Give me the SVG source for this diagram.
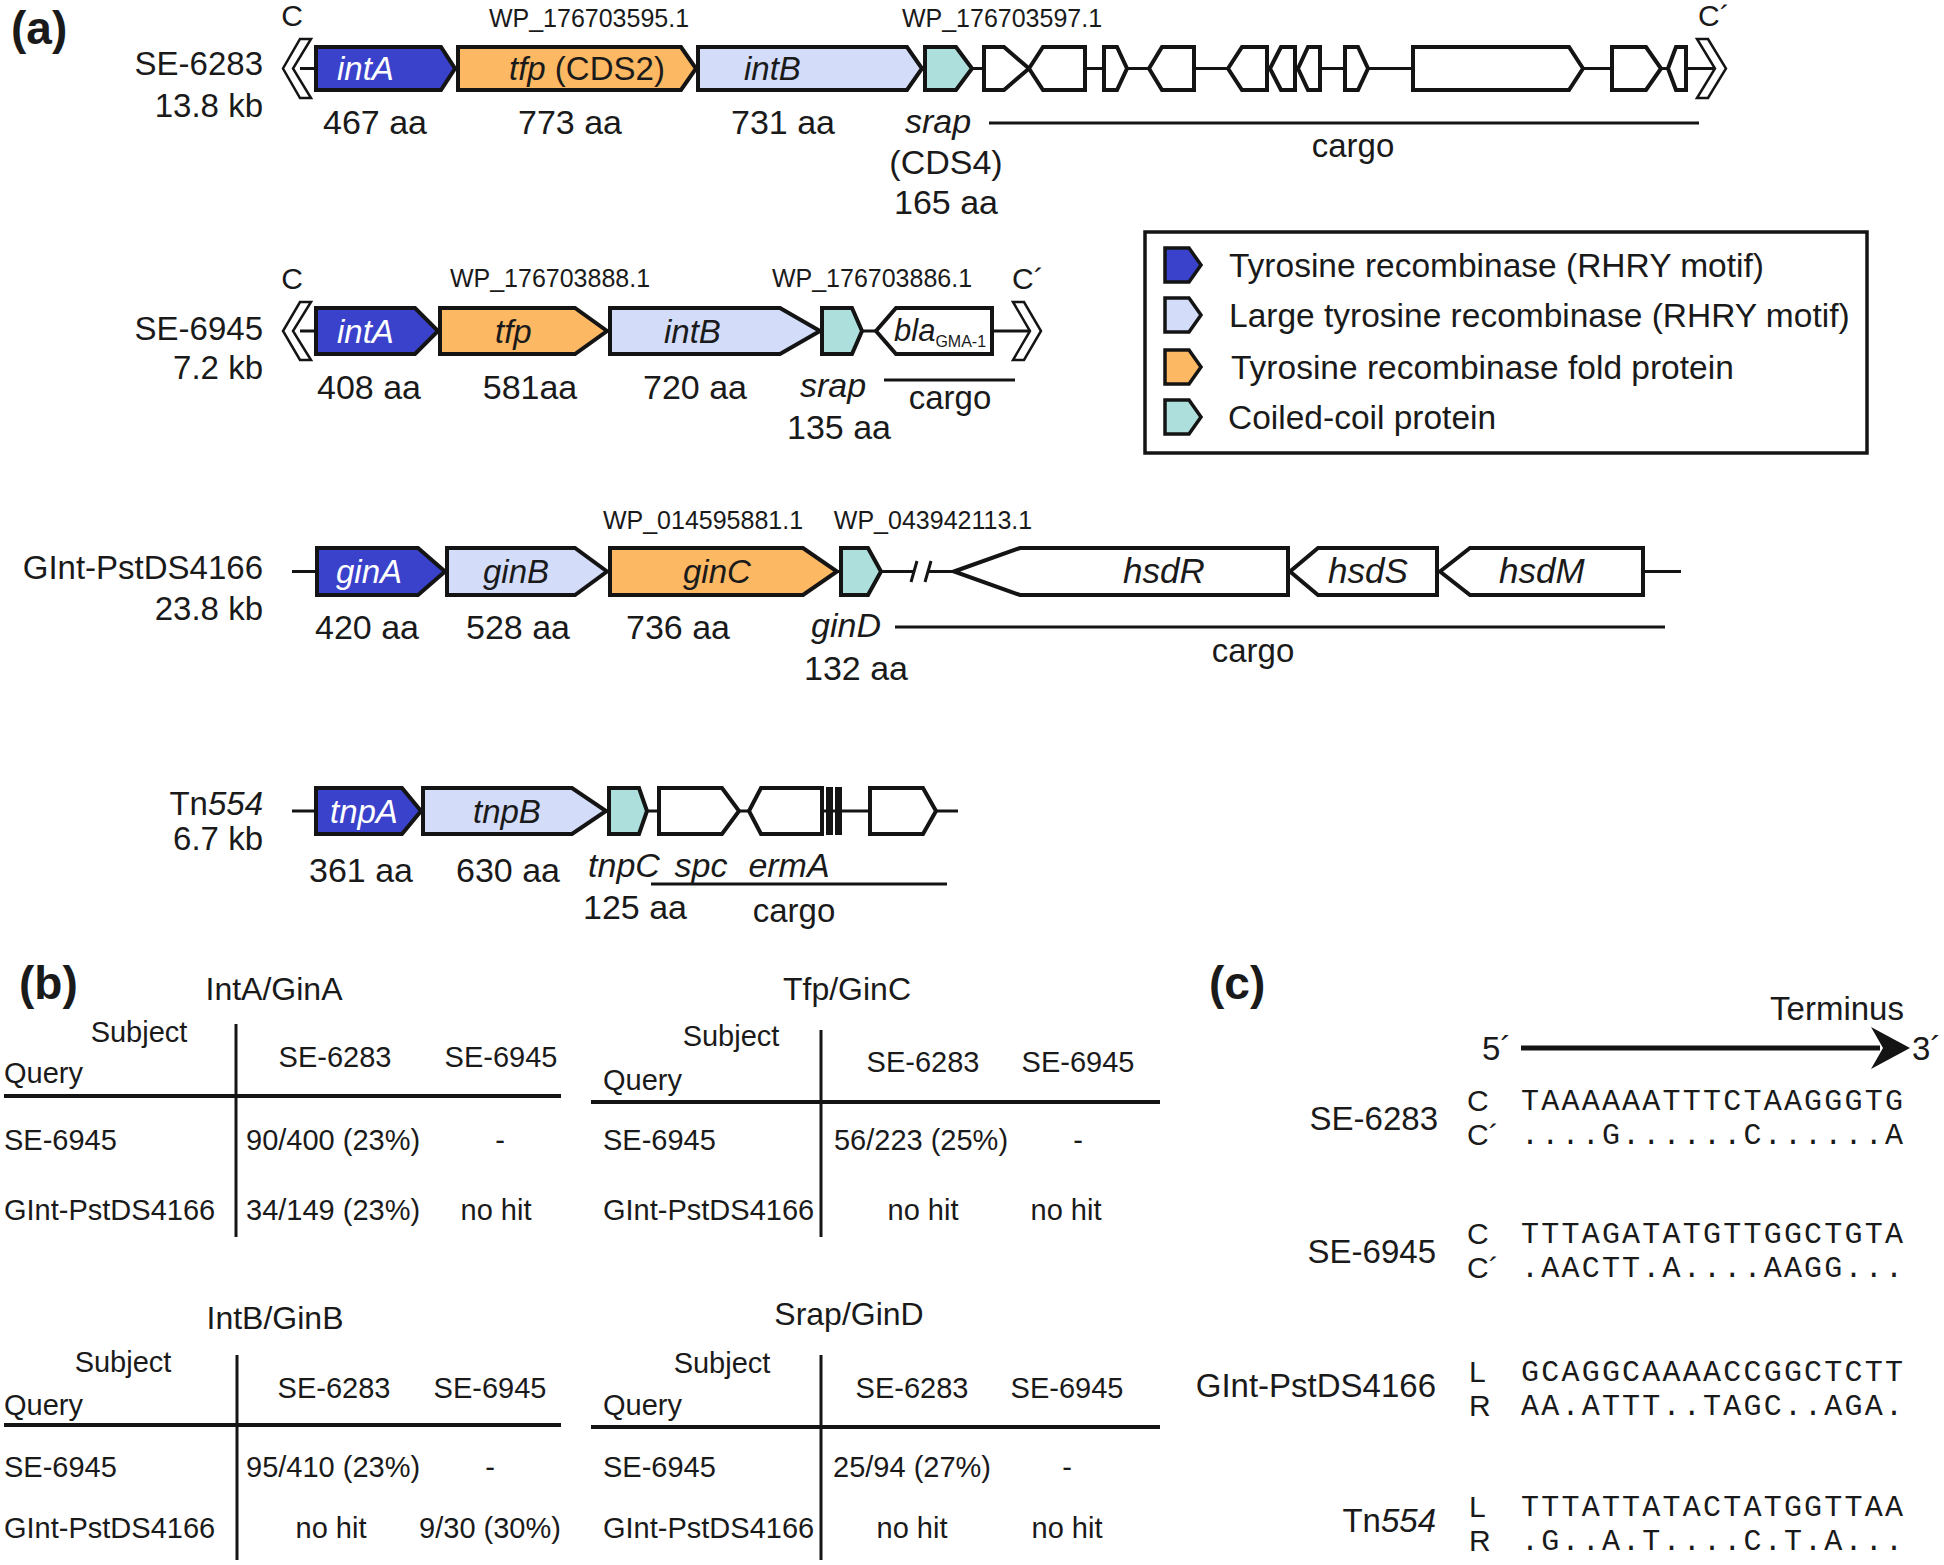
<svg xmlns="http://www.w3.org/2000/svg" width="1944" height="1565" viewBox="0 0 1944 1565">
<style>
text{font-family:"Liberation Sans",Arial,sans-serif;fill:#1a1a1a}
.pl{font-size:46px;font-weight:bold}
.lbl{font-size:33px}
.aa{font-size:34px}
.gn{font-size:33px;font-style:italic}
.w{fill:#fff}
.it{font-style:italic}
.wp{font-size:25px}
.tb{font-size:29px}
.tt{font-size:32px}
.lg{font-size:33.5px}
.seq{font-family:"Liberation Mono","Courier New",monospace;font-size:30px}
.cl2{font-size:30px}
.mid{text-anchor:middle}
.end{text-anchor:end}
.g{stroke:#141414;stroke-width:4;stroke-linejoin:miter}
.cb{fill:#3a42cb}
.cl{fill:#d3ddfa}
.co{fill:#fdb863}
.ct{fill:#ade0dc}
.cw{fill:#fff}
.bb{stroke:#141414;stroke-width:3;fill:none}
.ch{fill:#fff;stroke:#141414;stroke-width:2.5}
.cg{stroke:#141414;stroke-width:3}
.hl{stroke:#141414;stroke-width:4}
.vl{stroke:#141414;stroke-width:3}
</style>

<g id="connectors">
<line class="bb" x1="300" y1="68.5" x2="1715" y2="68.5"/>
<line class="bb" x1="300" y1="331" x2="1030" y2="331"/>
<line class="bb" x1="292" y1="571.5" x2="913" y2="571.5"/>
<line class="bb" x1="929" y1="571.5" x2="1681" y2="571.5"/>
<line class="bb" x1="292" y1="811" x2="958" y2="811"/>
<line class="cg" x1="989" y1="123" x2="1699" y2="123"/>
<line class="cg" x1="884" y1="380" x2="1015" y2="380"/>
<line class="cg" x1="895" y1="627" x2="1665" y2="627"/>
<line class="cg" x1="651" y1="884" x2="947" y2="884"/>
<line stroke="#141414" stroke-width="5" x1="1521" y1="1048" x2="1880" y2="1048"/>
<path d="M1910,1048 L1871,1027 L1883,1048 L1871,1069 Z" fill="#141414"/>
</g>

<text class="pl" x="11" y="44">(a)</text>

<g id="row-SE6283">
<text class="lbl end" x="263" y="75">SE-6283</text>
<text class="lbl end" x="263" y="117">13.8 kb</text>
<text class="lbl mid" x="292" y="26" style="font-size:30px">C</text>
<text class="lbl" x="1698" y="26" style="font-size:30px">C´</text>
<text class="wp mid" x="589" y="27">WP_176703595.1</text>
<text class="wp mid" x="1002" y="27">WP_176703597.1</text>
<polygon class="ch" points="300,39 311,39 293,68.5 311,98 300,98 283,68.5"/>
<polygon class="ch" points="1697,39 1708,39 1726,68.5 1708,98 1697,98 1715,68.5"/>
<path class="g cb" d="M316,47 H441 L455,68.5 L441,90 H316 Z"/>
<path class="g co" d="M458,47 H681 L696,68.5 L681,90 H458 Z"/>
<path class="g cl" d="M698,47 H907 L922,68.5 L907,90 H698 Z"/>
<path class="g ct" d="M925,47 H956 L972,68.5 L956,90 H925 Z"/>
<path class="g cw" d="M984,47 H1004 L1029,68.5 L1004,90 H984 Z"/>
<path class="g cw" d="M1029,68.5 L1043,47 H1085 V90 H1043 Z"/>
<path class="g cw" d="M1104,47 H1117 L1127,68.5 L1117,90 H1104 Z"/>
<path class="g cw" d="M1149,68.5 L1162,47 H1194 V90 H1162 Z"/>
<path class="g cw" d="M1228,68.5 L1242,47 H1267 V90 H1242 Z"/>
<path class="g cw" d="M1270,68.5 L1281,47 H1295 V90 H1281 Z"/>
<path class="g cw" d="M1298,68.5 L1308,47 H1320 V90 H1308 Z"/>
<path class="g cw" d="M1345,47 H1358 L1368,68.5 L1358,90 H1345 Z"/>
<path class="g cw" d="M1413,47 H1569 L1583,68.5 L1569,90 H1413 Z"/>
<path class="g cw" d="M1612,47 H1646 L1661,68.5 L1646,90 H1612 Z"/>
<path class="g cw" d="M1668,68.5 L1676,47 H1686 V90 H1676 Z"/>
<text class="gn w" x="337" y="80">intA</text>
<text class="gn" x="509" y="80">tfp <tspan style="font-style:normal">(CDS2)</tspan></text>
<text class="gn" x="744" y="80">intB</text>
<text class="aa mid" x="375" y="134">467 aa</text>
<text class="aa mid" x="570" y="134">773 aa</text>
<text class="aa mid" x="783" y="134">731 aa</text>
<text class="aa mid it" x="938" y="133">srap</text>
<text class="aa mid" x="946" y="174">(CDS4)</text>
<text class="aa mid" x="946" y="214">165 aa</text>
<text class="lbl mid" x="1353" y="157">cargo</text>
</g>

<g id="row-SE6945">
<text class="lbl end" x="263" y="340">SE-6945</text>
<text class="lbl end" x="263" y="379">7.2 kb</text>
<text class="lbl mid" x="292" y="289" style="font-size:30px">C</text>
<text class="lbl" x="1012" y="289" style="font-size:30px">C´</text>
<text class="wp mid" x="550" y="287">WP_176703888.1</text>
<text class="wp mid" x="872" y="287">WP_176703886.1</text>
<polygon class="ch" points="300,302 311,302 293,331 311,360 300,360 283,331"/>
<polygon class="ch" points="1013,302 1024,302 1041,331 1024,360 1013,360 1030,331"/>
<path class="g cb" d="M316,308 H415 L438,331 L415,354 H316 Z"/>
<path class="g co" d="M440,308 H575 L607,331 L575,354 H440 Z"/>
<path class="g cl" d="M610,308 H780 L820,331 L780,354 H610 Z"/>
<path class="g ct" d="M822,308 H852 L862,331 L852,354 H822 Z"/>
<path class="g cw" d="M876,331 L896,308 H992 V354 H896 Z"/>
<text class="gn w" x="337" y="343">intA</text>
<text class="gn" x="495" y="343">tfp</text>
<text class="gn" x="664" y="343">intB</text>
<text class="gn" x="894" y="341" style="font-size:31px">bla<tspan dy="6" style="font-size:16px;font-style:normal">GMA-1</tspan></text>
<text class="aa mid" x="369" y="399">408 aa</text>
<text class="aa mid" x="530" y="399">581aa</text>
<text class="aa mid" x="695" y="399">720 aa</text>
<text class="aa mid it" x="833" y="397">srap</text>
<text class="aa mid" x="839" y="439">135 aa</text>
<text class="lbl mid" x="950" y="409">cargo</text>
</g>

<g id="legend">
<rect x="1145" y="232" width="722" height="221" fill="none" stroke="#141414" stroke-width="3.5"/>
<path class="g cb" d="M1165,248 H1189 L1201,265 L1189,282 H1165 Z" style="stroke-width:3.5"/>
<path class="g cl" d="M1165,298 H1189 L1201,315 L1189,332 H1165 Z" style="stroke-width:3.5"/>
<path class="g co" d="M1165,350 H1189 L1201,367 L1189,384 H1165 Z" style="stroke-width:3.5"/>
<path class="g ct" d="M1165,400 H1189 L1201,417 L1189,434 H1165 Z" style="stroke-width:3.5"/>
<text class="lg" x="1229" y="277">Tyrosine recombinase (RHRY motif)</text>
<text class="lg" x="1229" y="327">Large tyrosine recombinase (RHRY motif)</text>
<text class="lg" x="1231" y="379">Tyrosine recombinase fold protein</text>
<text class="lg" x="1228" y="429">Coiled-coil protein</text>
</g>

<g id="row-GInt">
<text class="lbl end" x="263" y="579">GInt-PstDS4166</text>
<text class="lbl end" x="263" y="620">23.8 kb</text>
<text class="wp mid" x="703" y="529">WP_014595881.1</text>
<text class="wp mid" x="933" y="529">WP_043942113.1</text>
<path class="g cb" d="M317,548 H418 L445,571.5 L418,595 H317 Z"/>
<path class="g cl" d="M447,548 H575 L607,571.5 L575,595 H447 Z"/>
<path class="g co" d="M610,548 H803 L837,571.5 L803,595 H610 Z"/>
<path class="g ct" d="M841,548 H868 L881,571.5 L868,595 H841 Z"/>
<line class="bb" x1="911" y1="582" x2="917" y2="561"/>
<line class="bb" x1="925" y1="582" x2="931" y2="561"/>
<path class="g cw" d="M954,571.5 L1020,548 H1288 V595 H1020 Z"/>
<path class="g cw" d="M1290,571.5 L1318,548 H1437 V595 H1318 Z"/>
<path class="g cw" d="M1440,571.5 L1470,548 H1643 V595 H1470 Z"/>
<text class="gn w" x="336" y="583">ginA</text>
<text class="gn" x="483" y="583">ginB</text>
<text class="gn" x="683" y="583">ginC</text>
<text class="gn" x="1123" y="583" style="font-size:35px">hsdR</text>
<text class="gn" x="1328" y="583" style="font-size:35px">hsdS</text>
<text class="gn" x="1499" y="583" style="font-size:35px">hsdM</text>
<text class="aa mid" x="367" y="639">420 aa</text>
<text class="aa mid" x="518" y="639">528 aa</text>
<text class="aa mid" x="678" y="639">736 aa</text>
<text class="aa mid it" x="846" y="637">ginD</text>
<text class="aa mid" x="856" y="680">132 aa</text>
<text class="lbl mid" x="1253" y="662">cargo</text>
</g>

<g id="row-Tn554">
<text class="lbl end" x="263" y="815">Tn<tspan class="it">554</tspan></text>
<text class="lbl end" x="263" y="850">6.7 kb</text>
<path class="g cb" d="M316,788 H402 L421,811 L402,834 H316 Z"/>
<path class="g cl" d="M423,788 H572 L606,811 L572,834 H423 Z"/>
<path class="g ct" d="M609,788 H639 L647,811 L639,834 H609 Z"/>
<path class="g cw" d="M659,788 H722 L739,811 L722,834 H659 Z"/>
<path class="g cw" d="M749,811 L761,788 H822 V834 H761 Z"/>
<rect x="826" y="787" width="7" height="48" fill="#141414"/>
<rect x="835" y="787" width="7" height="48" fill="#141414"/>
<path class="g cw" d="M870,788 H923 L936,811 L923,834 H870 Z"/>
<text class="gn w" x="330" y="823">tnpA</text>
<text class="gn" x="473" y="823">tnpB</text>
<text class="aa mid" x="361" y="882">361 aa</text>
<text class="aa mid" x="508" y="882">630 aa</text>
<text class="aa mid it" x="624" y="877">tnpC</text>
<text class="aa mid it" x="701" y="877">spc</text>
<text class="aa mid it" x="789" y="877">ermA</text>
<text class="aa mid" x="635" y="919">125 aa</text>
<text class="lbl mid" x="794" y="922">cargo</text>
</g>

<text class="pl" x="19" y="999">(b)</text>

<g id="table-IntA">
<text class="tt mid" x="274" y="1000">IntA/GinA</text>
<text class="tb mid" x="139" y="1042">Subject</text>
<text class="tb" x="4" y="1083">Query</text>
<text class="tb mid" x="335" y="1067">SE-6283</text>
<text class="tb mid" x="501" y="1067">SE-6945</text>
<line class="hl" x1="4" y1="1096" x2="561" y2="1096"/>
<line class="vl" x1="236" y1="1024" x2="236" y2="1237"/>
<text class="tb" x="4" y="1150">SE-6945</text>
<text class="tb" x="246" y="1150">90/400 (23%)</text>
<text class="tb mid" x="500" y="1150">-</text>
<text class="tb" x="4" y="1220">GInt-PstDS4166</text>
<text class="tb" x="246" y="1220">34/149 (23%)</text>
<text class="tb mid" x="496" y="1220">no hit</text>
</g>

<g id="table-Tfp">
<text class="tt mid" x="847" y="1000">Tfp/GinC</text>
<text class="tb mid" x="731" y="1046">Subject</text>
<text class="tb" x="603" y="1090">Query</text>
<text class="tb mid" x="923" y="1072">SE-6283</text>
<text class="tb mid" x="1078" y="1072">SE-6945</text>
<line class="hl" x1="591" y1="1102" x2="1160" y2="1102"/>
<line class="vl" x1="821" y1="1030" x2="821" y2="1237"/>
<text class="tb" x="603" y="1150">SE-6945</text>
<text class="tb mid" x="921" y="1150">56/223 (25%)</text>
<text class="tb mid" x="1078" y="1150">-</text>
<text class="tb" x="603" y="1220">GInt-PstDS4166</text>
<text class="tb mid" x="923" y="1220">no hit</text>
<text class="tb mid" x="1066" y="1220">no hit</text>
</g>

<g id="table-IntB">
<text class="tt mid" x="275" y="1329">IntB/GinB</text>
<text class="tb mid" x="123" y="1372">Subject</text>
<text class="tb" x="4" y="1415">Query</text>
<text class="tb mid" x="334" y="1398">SE-6283</text>
<text class="tb mid" x="490" y="1398">SE-6945</text>
<line class="hl" x1="4" y1="1425" x2="561" y2="1425"/>
<line class="vl" x1="237" y1="1355" x2="237" y2="1560"/>
<text class="tb" x="4" y="1477">SE-6945</text>
<text class="tb" x="246" y="1477">95/410 (23%)</text>
<text class="tb mid" x="490" y="1477">-</text>
<text class="tb" x="4" y="1538">GInt-PstDS4166</text>
<text class="tb mid" x="331" y="1538">no hit</text>
<text class="tb mid" x="490" y="1538">9/30 (30%)</text>
</g>

<g id="table-Srap">
<text class="tt mid" x="849" y="1325">Srap/GinD</text>
<text class="tb mid" x="722" y="1373">Subject</text>
<text class="tb" x="603" y="1415">Query</text>
<text class="tb mid" x="912" y="1398">SE-6283</text>
<text class="tb mid" x="1067" y="1398">SE-6945</text>
<line class="hl" x1="591" y1="1427" x2="1160" y2="1427"/>
<line class="vl" x1="821" y1="1355" x2="821" y2="1560"/>
<text class="tb" x="603" y="1477">SE-6945</text>
<text class="tb mid" x="912" y="1477">25/94 (27%)</text>
<text class="tb mid" x="1067" y="1477">-</text>
<text class="tb" x="603" y="1538">GInt-PstDS4166</text>
<text class="tb mid" x="912" y="1538">no hit</text>
<text class="tb mid" x="1067" y="1538">no hit</text>
</g>

<text class="pl" x="1209" y="999">(c)</text>

<g id="termini">
<text class="lbl mid" x="1837" y="1020">Terminus</text>
<text class="lbl" x="1482" y="1060">5´</text>
<text class="lbl" x="1912" y="1060">3´</text>
<text class="lbl end" x="1438" y="1130">SE-6283</text>
<text class="cl2" x="1467" y="1111">C</text>
<text class="cl2" x="1467" y="1145">C´</text>
<text class="seq" x="1521" y="1110" textLength="382" lengthAdjust="spacing">TAAAAAATTTCTAAGGGTG</text>
<text class="seq" x="1521" y="1144" textLength="382" lengthAdjust="spacing">....G......C......A</text>
<text class="lbl end" x="1436" y="1263">SE-6945</text>
<text class="cl2" x="1467" y="1244">C</text>
<text class="cl2" x="1467" y="1278">C´</text>
<text class="seq" x="1521" y="1243" textLength="382" lengthAdjust="spacing">TTTAGATATGTTGGCTGTA</text>
<text class="seq" x="1521" y="1277" textLength="382" lengthAdjust="spacing">.AACTT.A....AAGG...</text>
<text class="lbl end" x="1436" y="1397">GInt-PstDS4166</text>
<text class="cl2" x="1469" y="1382">L</text>
<text class="cl2" x="1469" y="1416">R</text>
<text class="seq" x="1521" y="1381" textLength="382" lengthAdjust="spacing">GCAGGCAAAACCGGCTCTT</text>
<text class="seq" x="1521" y="1415" textLength="382" lengthAdjust="spacing">AA.ATTT..TAGC..AGA.</text>
<text class="lbl end" x="1436" y="1532">Tn<tspan class="it">554</tspan></text>
<text class="cl2" x="1469" y="1517">L</text>
<text class="cl2" x="1469" y="1551">R</text>
<text class="seq" x="1521" y="1516" textLength="382" lengthAdjust="spacing">TTTATTATACTATGGTTAA</text>
<text class="seq" x="1521" y="1550" textLength="382" lengthAdjust="spacing">.G..A.T....C.T.A...</text>
</g>
</svg>
